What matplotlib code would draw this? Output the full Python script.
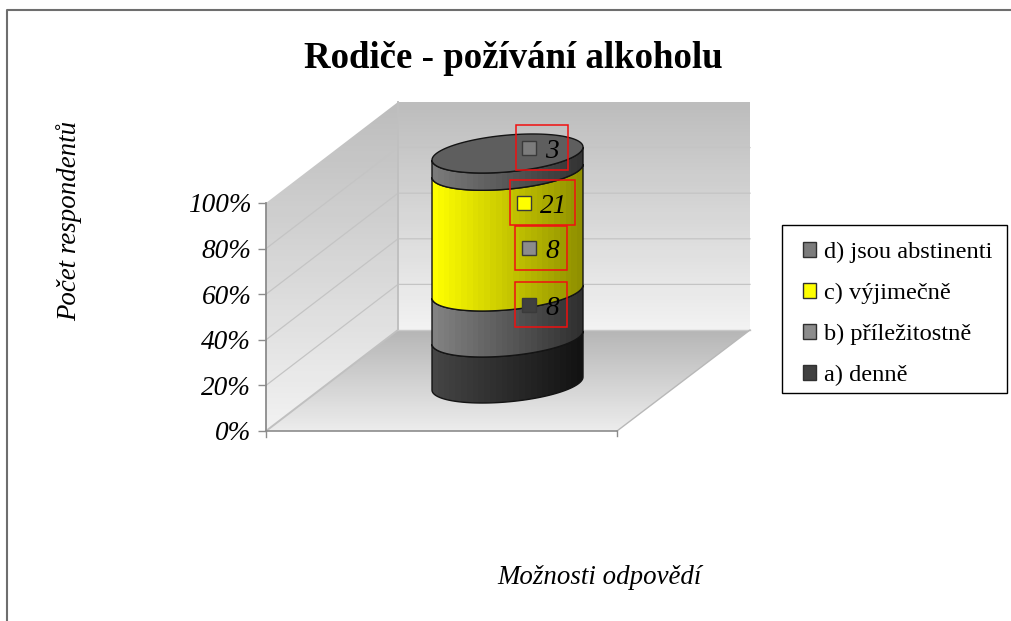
import matplotlib
matplotlib.use("Agg")
import matplotlib.pyplot as plt
import numpy as np
from matplotlib.patches import Polygon, Rectangle, Patch

plt.rcParams['font.family'] = ['Liberation Serif', 'DejaVu Serif']

title = "Rodiče - požívání alkoholu"
x_title = "Možnosti odpovědí"
y_title = "Počet respondentů"

# bottom to top, counts of respondents
categories = ["a) denně", "b) příležitostně", "c) výjimečně", "d) jsou abstinenti"]
counts = [8, 8, 21, 3]
pct_ticks = [0, 20, 40, 60, 80, 100]
pct_labels = ["0%", "20%", "40%", "60%", "80%", "100%"]

# colours: left and right end of the shading, legend key
side_left = ["#454545", "#828282", "#ffff00", "#7a7a7a"]
side_right = ["#121212", "#303030", "#909000", "#343434"]
key_colors = ["#404040", "#8c8c8c", "#ffff00", "#7c7c7c"]

W, H = 1012, 621


def gradient(ax, poly, c0, c1, vertical=True, zorder=1):
    # shaded fill clipped to a polygon
    c0 = np.array(matplotlib.colors.to_rgb(c0))
    c1 = np.array(matplotlib.colors.to_rgb(c1))
    n = 60 if vertical else 26
    f = np.linspace(0, 1, n)[:, None]
    img = c0 * (1 - f) + c1 * f
    img = img[:, None, :] if vertical else img[None, :, :]
    xs, ys = poly[:, 0], poly[:, 1]
    xlim, ylim = ax.get_xlim(), ax.get_ylim()
    im = ax.imshow(img, extent=(xs.min(), xs.max(), ys.max(), ys.min()),
                   aspect='auto', origin='upper', zorder=zorder, interpolation='nearest')
    im.set_clip_path(Polygon(poly, closed=True, transform=ax.transData))
    ax.set_xlim(xlim)
    ax.set_ylim(ylim)
    return im


fig = plt.figure(figsize=(W / 100, H / 100), dpi=100, facecolor='white')

# page in pixel units, for walls and floor
ax = fig.add_axes([0, 0, 1, 1])
ax.set_xlim(0, W)
ax.set_ylim(H, 0)
ax.axis('off')

ax.plot([6.8, 6.8, W], [H, 9.8, 9.8], color='#6e6e6e', lw=1.5, zorder=1)

left_wall = np.array([[266, 203], [398, 102], [398, 330], [266, 431]], float)
back_wall = np.array([[398, 102], [750, 102], [750, 330], [398, 330]], float)
floor = np.array([[266, 431], [398, 330], [750, 330], [617, 431]], float)
gradient(ax, left_wall, '#bdbdbd', '#f2f2f2')
gradient(ax, back_wall, '#bdbdbd', '#f2f2f2')
gradient(ax, floor, '#b6b6b6', '#ececec')

# grid lines on the walls
for p in pct_ticks[1:-1]:
    d = p / 100 * 228
    ax.plot([266, 398, 750], [431 - d, 330 - d, 330 - d], color='#c4c4c4', lw=0.9, zorder=2)
ax.plot([398, 398], [102, 330], color='#c0c0c0', lw=1.4, zorder=2)
ax.plot([266, 398], [431, 330], color='#c0c0c0', lw=1.4, zorder=2)
ax.plot([398, 750], [330, 330], color='#c8c8c8', lw=1.0, zorder=2)
ax.plot([617, 750], [431, 330], color='#b8b8b8', lw=1.0, zorder=2)
ax.plot([266, 617], [431, 431], color='#8c8c8c', lw=1.2, zorder=3)
ax.plot([617, 617], [431, 436], color='#8c8c8c', lw=1.0, zorder=3)
ax.plot([266, 266], [431, 437], color='#8c8c8c', lw=1.0, zorder=3)

ax.text(513, 58, title, ha='center', va='center', fontsize=26.6, fontweight='bold')
ax.text(600, 577, x_title, ha='center', va='center', fontsize=19.4, style='italic')
ax.text(69, 221, y_title, ha='center', va='center', fontsize=19.4, style='italic', rotation=90)

# value axis on the front edge of the left wall
ay = fig.add_axes([266 / W, (H - 431) / H, 1 / W, 228 / H], facecolor='none')
ay.set_ylim(0, 100)
ay.set_xticks([])
ay.set_yticks(pct_ticks, pct_labels, fontsize=19.6, style='italic')
ay.tick_params(axis='y', length=5.5, width=1, color='#8c8c8c', pad=5)
for name, sp in ay.spines.items():
    sp.set_visible(name == 'left')
ay.spines['left'].set_color('#8c8c8c')
ay.spines['left'].set_linewidth(1.3)

# cylinder: x runs -1..1 across its width, y is percent of respondents
# the axes reach 15 percent past each end so the curved ends are not cut
px_per_pct = 2.3
ac = fig.add_axes([432 / W, (H - 383.5 - 15 * px_per_pct) / H, 151 / W, 130 * px_per_pct / H], facecolor='none')
ac.set_xlim(-1, 1)
ac.set_ylim(-15, 115)
ac.axis('off')

rise = 8.0    # half height of the end ellipse, in percent units
tilt = 2.83   # how far the right side sits above the centre
t = np.linspace(0, np.pi, 80)
front_x = np.cos(t)
front_y = -rise * np.sin(t) + tilt * np.cos(t)

total = sum(counts)
tops = np.cumsum(counts) / total * 100
bottoms = np.concatenate([[0], tops[:-1]])
for i in range(len(counts)):
    poly = np.vstack([np.column_stack([front_x, front_y + tops[i]]),
                      np.column_stack([front_x[::-1], front_y[::-1] + bottoms[i]])])
    gradient(ac, poly, side_left[i], side_right[i], vertical=False, zorder=2 + i)
    ac.add_patch(Polygon(poly, closed=True, fill=False, ec='#141414', lw=1.0, zorder=2.5 + i, clip_on=False))

t2 = np.linspace(0, 2 * np.pi, 160)
cap = np.column_stack([np.cos(t2), 100 - rise * np.sin(t2) + tilt * np.cos(t2)])
ac.add_patch(Polygon(cap, closed=True, fc='#5e5e5e', ec='#141414', lw=1.0, zorder=8, clip_on=False))

# top layer in page pixels: data labels and legend
al = fig.add_axes([0, 0, 1, 1], facecolor='none')
al.set_xlim(0, W)
al.set_ylim(H, 0)
al.axis('off')

# box x0, y0, x1, y1, key x, text x
label_boxes = [(515, 282, 567, 327, 529, 552), (515, 226, 567, 270, 529, 552),
               (510, 180, 575, 225, 524, 554), (516, 125, 568, 170, 529, 552)]
for i, box in enumerate(label_boxes):
    x0, y0, x1, y1, kx, tx = box
    ym = (y0 + y1) / 2
    al.add_patch(Rectangle((x0, y0), x1 - x0, y1 - y0, fill=False, ec='#f01010', lw=1.1, zorder=20))
    al.add_patch(Rectangle((kx - 7, ym - 7), 14, 14, fc=key_colors[i], ec='#3a3a3a', lw=1.0, zorder=21))
    al.text(tx, ym + 4, str(counts[i]), ha='center', va='center', fontsize=19.6, style='italic', zorder=22)

al.add_patch(Rectangle((782, 225), 225, 168, fc='white', ec='black', lw=1.0, zorder=25))
handles = [Patch(fc=key_colors[i], ec='#303030', lw=1.0) for i in range(len(categories))][::-1]
leg = al.legend(handles, categories[::-1], loc='upper left', bbox_to_anchor=(803 / W, 1 - 242 / H),
                bbox_transform=fig.transFigure, borderaxespad=0, fontsize=17.6, frameon=False,
                handlelength=0.53, handleheight=0.53, handletextpad=0.33,
                labelspacing=0.81, borderpad=0)
leg.set_zorder(30)

fig.savefig("out.png", dpi=100)
